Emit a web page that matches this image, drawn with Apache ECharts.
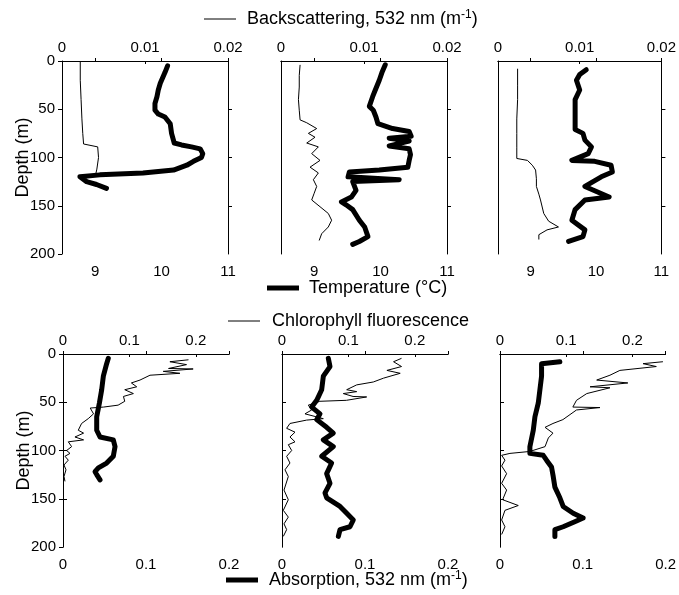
<!DOCTYPE html>
<html>
<head>
<meta charset="utf-8">
<script src="https://cdn.jsdelivr.net/npm/echarts@6/dist/echarts.min.js"></script>
<style>
html, body { margin: 0; padding: 0; background: #fff; }
#chart { width: 679px; height: 595px; }
</style>
</head>
<body>
<div id="chart"></div>
<script>
// profiles: [value, depth in m]
let bbp1 = [[0.0022,1],[0.0022,20],[0.0023,40],[0.0024,60],[0.0025,75],[0.0026,86],[0.0027,88],[0.0043,89],[0.0044,100],[0.0042,112],[0.0041,116],[0.0036,120]];
let temp1 = [[10.09,5],[10.05,12],[9.98,23],[9.95,30],[9.93,37],[9.90,44],[9.90,51],[9.95,55],[10.05,58],[10.13,65],[10.15,75],[10.19,85],[10.30,87],[10.45,89],[10.58,91],[10.62,96],[10.60,100],[10.48,104],[10.38,108],[10.18,113],[9.72,116],[9.07,118],[8.77,120],[8.75,122],[8.87,125],[9.02,128],[9.17,132]];

let bbp2 = [[0.0023,4],[0.0022,15],[0.0022,27],[0.0021,40],[0.0022,51],[0.0023,61],[0.0031,64],[0.0043,70],[0.0033,75],[0.0041,79],[0.0031,85],[0.0045,89],[0.0037,96],[0.0047,103],[0.0035,110],[0.0045,116],[0.0039,123],[0.0043,130],[0.0040,137],[0.0037,144],[0.0047,151],[0.0057,158],[0.0061,165],[0.0057,172],[0.0049,179],[0.0046,186]];
let temp2 = [[10.07,4],[10.02,12],[9.98,20],[9.92,30],[9.88,37],[9.83,47],[9.89,51],[9.93,58],[9.96,65],[10.18,70],[10.43,73],[10.46,78],[10.13,80],[10.43,83],[10.13,88],[10.43,91],[10.45,97],[10.43,103],[10.41,110],[9.98,113],[9.53,115],[9.51,120],[10.28,123],[9.58,125],[9.63,134],[9.56,141],[9.41,146],[9.48,149],[9.58,154],[9.68,165],[9.76,172],[9.81,182],[9.68,187],[9.58,190]];

let bbp3 = [[0.0024,8],[0.0024,25],[0.0024,40],[0.0023,60],[0.0023,75],[0.0023,90],[0.0023,101],[0.0036,103],[0.0042,108],[0.0046,113],[0.0047,122],[0.0047,130],[0.0050,138],[0.0052,144],[0.0056,158],[0.0062,166],[0.0074,172],[0.0060,175],[0.0050,180],[0.0050,185]];
let temp3 = [[9.85,9],[9.75,14],[9.70,20],[9.75,30],[9.68,40],[9.68,55],[9.68,71],[9.80,75],[9.83,82],[9.93,89],[9.88,96],[9.63,103],[9.98,104],[10.23,108],[10.25,115],[10.08,120],[9.83,130],[10.20,141],[9.83,144],[9.68,154],[9.63,165],[9.83,175],[9.80,182],[9.58,187]];

let chl4 = [[0.189,6],[0.161,8],[0.186,11],[0.159,15],[0.196,15.5],[0.151,18],[0.176,20],[0.131,22],[0.116,27],[0.103,30],[0.111,34],[0.093,37],[0.106,41],[0.091,44],[0.093,49],[0.083,53],[0.061,55],[0.041,56],[0.046,62],[0.038,67],[0.028,72],[0.023,79],[0.031,82],[0.018,86],[0.031,89],[0.008,91],[0.013,96],[0.0055,100],[0.0105,103],[0.003,106],[0.008,110],[0.0015,115],[0.0045,120],[0.0015,127],[0.003,132]];
let abs4 = [[0.0546,4.5],[0.0526,10],[0.0486,23],[0.0466,37],[0.0438,51],[0.0406,65],[0.0406,79],[0.0446,86],[0.0606,89],[0.0627,96],[0.0606,106],[0.0526,113],[0.0426,118],[0.0386,122],[0.0406,125],[0.0446,130.5]];

let chl5 = [[0.180,4.5],[0.168,8],[0.180,13],[0.158,17],[0.178,20],[0.153,25],[0.1375,29],[0.1125,32],[0.0974,37],[0.1125,39],[0.0923,41],[0.107,44],[0.1275,44.5],[0.097,48],[0.057,49],[0.0396,53],[0.0447,58],[0.0346,62],[0.0622,67],[0.037,68.5],[0.012,72],[0.007,77],[0.0196,81],[0.012,86],[0.0196,91],[0.0095,94],[0.0146,100],[0.007,106],[0.012,113],[0.0045,120],[0.0095,127],[0.003,141],[0.0095,151],[0.002,162],[0.0095,169],[0.003,176],[0.007,182],[0.002,189]];
let abs5 = [[0.0558,4.5],[0.0578,13],[0.0498,23],[0.0478,37],[0.0418,48],[0.0358,55],[0.0458,62],[0.0418,68],[0.0538,76],[0.0618,82],[0.0498,89],[0.0618,96],[0.0478,106],[0.0598,113],[0.0538,124],[0.0578,134],[0.0518,144],[0.0538,149],[0.0699,158],[0.078,165],[0.0859,172],[0.0819,179],[0.0699,182],[0.0679,189]];

let chl6 = [[0.246,8],[0.216,10],[0.236,13],[0.181,17],[0.166,22],[0.146,27],[0.193,30],[0.136,34],[0.166,35],[0.131,41],[0.1155,48],[0.110,55],[0.151,55.5],[0.1155,58],[0.095,68],[0.080,72],[0.068,76],[0.080,82],[0.073,87],[0.068,96],[0.045,101],[0.015,103],[0.0025,105],[0.0075,110],[0.0025,116],[0.010,124],[0.0025,134],[0.010,141],[0.004,151],[0.0276,157],[0.0075,162],[0.0025,172],[0.0075,179],[0.0025,187]];
let abs6 = [[0.0723,8],[0.0502,10],[0.0502,23],[0.0482,37],[0.0462,51],[0.0422,65],[0.0402,79],[0.0361,96],[0.0361,103],[0.0522,105],[0.0562,110],[0.0622,117],[0.0643,127],[0.0663,138],[0.0723,149],[0.0763,158],[0.0884,165],[0.1004,170],[0.0924,173],[0.0763,179],[0.0663,182],[0.0663,189]];

let depthTicks = [0, 50, 100, 150, 200];
let bbpTicks = [0, 0.01, 0.02];
let tempTicks = [9, 10, 11];
let chlTicks = [0, 0.1, 0.2];
let absTicks = [0, 0.1, 0.2];

const FONT = 'Liberation Sans, Arial, sans-serif';

let panels = [
    { left: 62,  top: 61,  thin: bbp1, thick: temp1, row: 0 },
    { left: 281, top: 61,  thin: bbp2, thick: temp2, row: 0 },
    { left: 498, top: 61,  thin: bbp3, thick: temp3, row: 0 },
    { left: 63,  top: 354, thin: chl4, thick: abs4,  row: 1 },
    { left: 282, top: 354, thin: chl5, thick: abs5,  row: 1 },
    { left: 500, top: 354, thin: chl6, thick: abs6,  row: 1 }
];

let axisBase = {
    type: 'value',
    axisLine: { show: true, lineStyle: { color: '#000', width: 1 } },
    axisTick: { show: true, inside: false, length: 4, lineStyle: { color: '#000' } },
    splitLine: { show: false },
    axisLabel: { color: '#000', fontSize: 15, fontFamily: FONT }
};

function ax(extra) {
    let o = JSON.parse(JSON.stringify(axisBase));
    for (let k in extra) {
        if (typeof extra[k] === 'object' && !Array.isArray(extra[k]) && o[k]) {
            Object.assign(o[k], extra[k]);
        } else {
            o[k] = extra[k];
        }
    }
    return o;
}

let grids = [], xAxes = [], yAxes = [], series = [];

panels.forEach(function (p, i) {
    grids.push({ left: p.left, top: p.top, width: 166, height: 193, containLabel: false });

    let topRange = p.row === 0 ? { min: 0, max: 0.02, ticks: bbpTicks } : { min: 0, max: 0.25, ticks: chlTicks };
    let botRange = p.row === 0 ? { min: 8.5, max: 11, ticks: tempTicks } : { min: 0, max: 0.2, ticks: absTicks };

    xAxes.push(ax({
        gridIndex: i, position: 'top', min: topRange.min, max: topRange.max,
        axisLabel: { margin: 6, customValues: topRange.ticks },
        axisTick: { inside: true, length: 3, customValues: topRange.ticks }
    }));
    xAxes.push(ax({
        gridIndex: i, position: 'bottom', min: botRange.min, max: botRange.max,
        axisLabel: { margin: 10, customValues: botRange.ticks },
        axisTick: { inside: true, length: 3, customValues: botRange.ticks }
    }));

    let first = (i === 0 || i === 3);
    yAxes.push(ax({
        gridIndex: i, position: 'left', inverse: true, min: 0, max: 200, interval: 50,
        name: first ? 'Depth (m)' : '',
        nameLocation: 'middle', nameGap: 30, nameMoveOverlap: false,
        nameTextStyle: { color: '#000', fontSize: 18, fontFamily: FONT },
        axisLabel: { show: first, margin: 7, customValues: depthTicks },
        axisTick: { show: first }
    }));
    yAxes.push(ax({
        gridIndex: i, position: 'right', inverse: true, min: 0, max: 200, interval: 50,
        axisLabel: { show: false },
        axisTick: { show: true, customValues: [50, 100, 150] }
    }));

    series.push({
        type: 'line', xAxisIndex: i * 2, yAxisIndex: i * 2,
        data: p.thin, showSymbol: false, symbol: 'none',
        lineStyle: { color: '#000', width: 1 }
    });
    series.push({
        type: 'line', xAxisIndex: i * 2 + 1, yAxisIndex: i * 2,
        data: p.thick, showSymbol: false, symbol: 'none',
        lineStyle: { color: '#000', width: 5, cap: 'round', join: 'round' }
    });
});

function legendText(x, y, txt) {
    return {
        type: 'text', x: x, y: y,
        style: {
            text: txt, fill: '#000', align: 'left', verticalAlign: 'middle',
            font: '18px ' + FONT,
            rich: {
                a: { fontSize: 18, fontFamily: FONT, fill: '#000' },
                s: { fontSize: 12, fontFamily: FONT, fill: '#000', verticalAlign: 'top', padding: [0, 0, 8, 0] }
            }
        }
    };
}

function legendLine(x1, x2, y, w) {
    return {
        type: 'line', shape: { x1: x1, y1: y, x2: x2, y2: y },
        style: { stroke: '#000', lineWidth: w }
    };
}

let chart = echarts.init(document.getElementById('chart'));
chart.setOption({
    animation: false,
    backgroundColor: '#fff',
    textStyle: { fontFamily: FONT },
    grid: grids,
    xAxis: xAxes,
    yAxis: yAxes,
    series: series,
    graphic: [
        legendLine(204, 236, 19, 1),
        legendText(247, 19, '{a|Backscattering, 532 nm (m}{s|-1}{a|)}'),
        legendLine(267, 299, 288, 5),
        legendText(309, 288, '{a|Temperature (°C)}'),
        legendLine(228, 260, 321, 1),
        legendText(272, 321, '{a|Chlorophyll fluorescence}'),
        legendLine(226, 258, 580, 5),
        legendText(269, 580, '{a|Absorption, 532 nm (m}{s|-1}{a|)}')
    ]
});
</script>
</body>
</html>
